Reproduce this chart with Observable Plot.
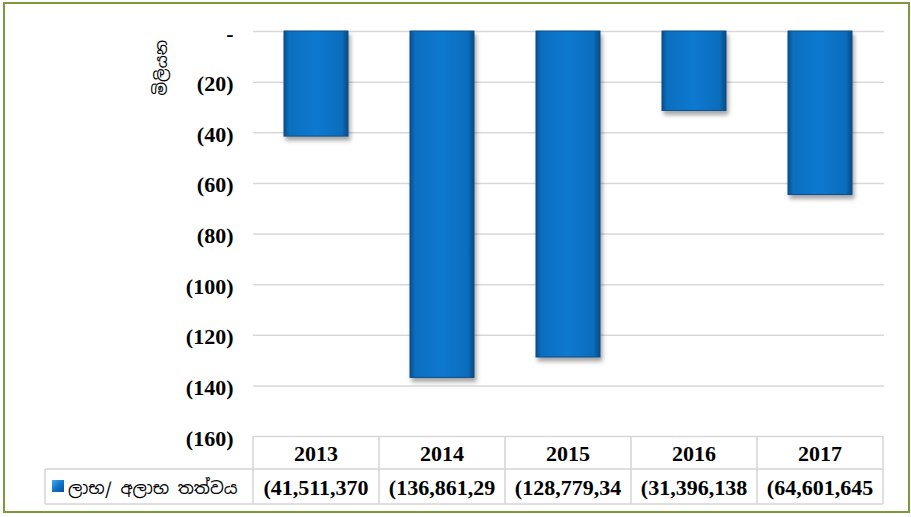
<!DOCTYPE html>
<html><head><meta charset="utf-8">
<script src="https://cdn.jsdelivr.net/npm/d3@7"></script>
<script src="https://cdn.jsdelivr.net/npm/@observablehq/plot@0.6"></script>
<style>
html,body{margin:0;padding:0;background:#fff;}
#wrap{position:relative;width:911px;height:517px;overflow:hidden;}
#wrap svg g[aria-label="bar"]{filter:drop-shadow(2px 4px 2px rgba(0,0,0,0.35));}
</style></head><body><div id="wrap"></div>
<script>
const years = ["2013", "2014", "2015", "2016", "2017"];
const values = [-41.51137, -136.86129, -128.77934, -31.396138, -64.601645]; // millions
const cellLabels = ["(41,511,370", "(136,861,29", "(128,779,34", "(31,396,138", "(64,601,645"];
const yTicks = [0, -20, -40, -60, -80, -100, -120, -140, -160];
const seriesName = "ලාභ/ අලාභ තත්වය";
const yTitle = "මිලියන";

(function () {
const data = years.map((year, i) => ({year, value: values[i], label: cellLabels[i]}));
const serif = "'Liberation Serif','Times New Roman',serif";
const sinhala = "'Noto Sans Sinhala','Iskoola Pota','Noto Sans','DejaVu Sans',sans-serif";
const fmt = d => d === 0 ? "-" : `(${Math.abs(d)})`;

const chart = Plot.plot({
  width: 911, height: 517,
  marginLeft: 253, marginRight: 27, marginTop: 31, marginBottom: 81,
  style: {fontFamily: serif, background: "transparent", overflow: "visible"},
  x: {domain: years, paddingInner: 0.49, paddingOuter: 0.245, axis: null},
  y: {domain: [-160, 0]},
  marks: [
    Plot.ruleY(yTicks, {stroke: "#d9d9d9", strokeWidth: 1.5}),
    Plot.barY(data, {x: "year", y: "value", fill: "url(#barGrad)", stroke: "#0a4f8c", strokeWidth: 1}),
    Plot.axisY({ticks: yTicks, tickFormat: fmt, tickSize: 0, tickPadding: 20, dy: 2,
      fontWeight: "bold", fontSize: 22, fill: "#000", label: null}),
    Plot.text([yTitle], {frameAnchor: "top-left", dx: -98, dy: 64, rotate: -90,
      fontFamily: sinhala, fontSize: 16, fill: "#000"})
  ]
});

const svg = d3.select(chart);
const defs = svg.insert("defs", ":first-child");
const g = defs.append("linearGradient").attr("id", "barGrad").attr("x1", 0).attr("x2", 1).attr("y1", 0).attr("y2", 0);
[[0, "#0a4f8c"], [0.08, "#0c6fc0"], [0.5, "#0d79cf"], [0.9, "#0b6dbd"], [1, "#0a4a82"]]
  .forEach(([o, c]) => g.append("stop").attr("offset", o).attr("stop-color", c));

// data table under the plot, aligned on Plot's own scales
const sx = chart.scale("x"), sy = chart.scale("y");
const step = sx.step, bw = sx.bandwidth;
const center = y => sx.apply(y) + bw / 2;
const tTop = sy.apply(-160);
const headH = 33, rowH = 35;
const right0 = center(years[years.length - 1]) + step / 2;
const legendLeft = 45;
const t = svg.append("g").attr("stroke", "#d4d4d4").attr("stroke-width", 1.5).attr("fill", "none");
t.append("line").attr("x1", legendLeft).attr("x2", right0).attr("y1", tTop + headH).attr("y2", tTop + headH);
t.append("line").attr("x1", legendLeft).attr("x2", right0).attr("y1", tTop + headH + rowH).attr("y2", tTop + headH + rowH);
t.append("line").attr("x1", legendLeft).attr("x2", legendLeft).attr("y1", tTop + headH).attr("y2", tTop + headH + rowH);
years.forEach(y => {
  t.append("line").attr("x1", center(y) - step / 2).attr("x2", center(y) - step / 2).attr("y1", tTop).attr("y2", tTop + headH + rowH);
});
t.append("line").attr("x1", right0).attr("x2", right0).attr("y1", tTop).attr("y2", tTop + headH + rowH);

const tx = svg.append("g").attr("font-family", serif).attr("font-weight", "bold").attr("font-size", 22).attr("fill", "#000").attr("text-anchor", "middle");
data.forEach(d => {
  tx.append("text").attr("x", center(d.year)).attr("y", tTop + headH - 8).text(d.year);
  tx.append("text").attr("x", center(d.year)).attr("y", tTop + headH + rowH - 9).text(d.label);
});
const ig = defs.append("linearGradient").attr("id", "iconGrad").attr("x1", 0).attr("x2", 1).attr("y1", 0).attr("y2", 1);
[[0, "#4aa8ea"], [0.5, "#0d77cb"], [1, "#0a4f8c"]].forEach(([o, c]) => ig.append("stop").attr("offset", o).attr("stop-color", c));
svg.append("rect").attr("x", 52).attr("y", tTop + headH + 11).attr("width", 12).attr("height", 12).attr("fill", "url(#iconGrad)");
svg.append("text").attr("x", 68).attr("y", tTop + headH + rowH - 10).attr("text-anchor", "start")
  .attr("font-family", sinhala).attr("font-size", 17).attr("fill", "#000").text(seriesName);

// outer border
svg.append("rect").attr("x", 4).attr("y", 3).attr("width", 905).attr("height", 509).attr("fill", "none").attr("stroke", "#7a9a3c").attr("stroke-width", 2);

document.getElementById("wrap").appendChild(chart);
})();
</script></body></html>
